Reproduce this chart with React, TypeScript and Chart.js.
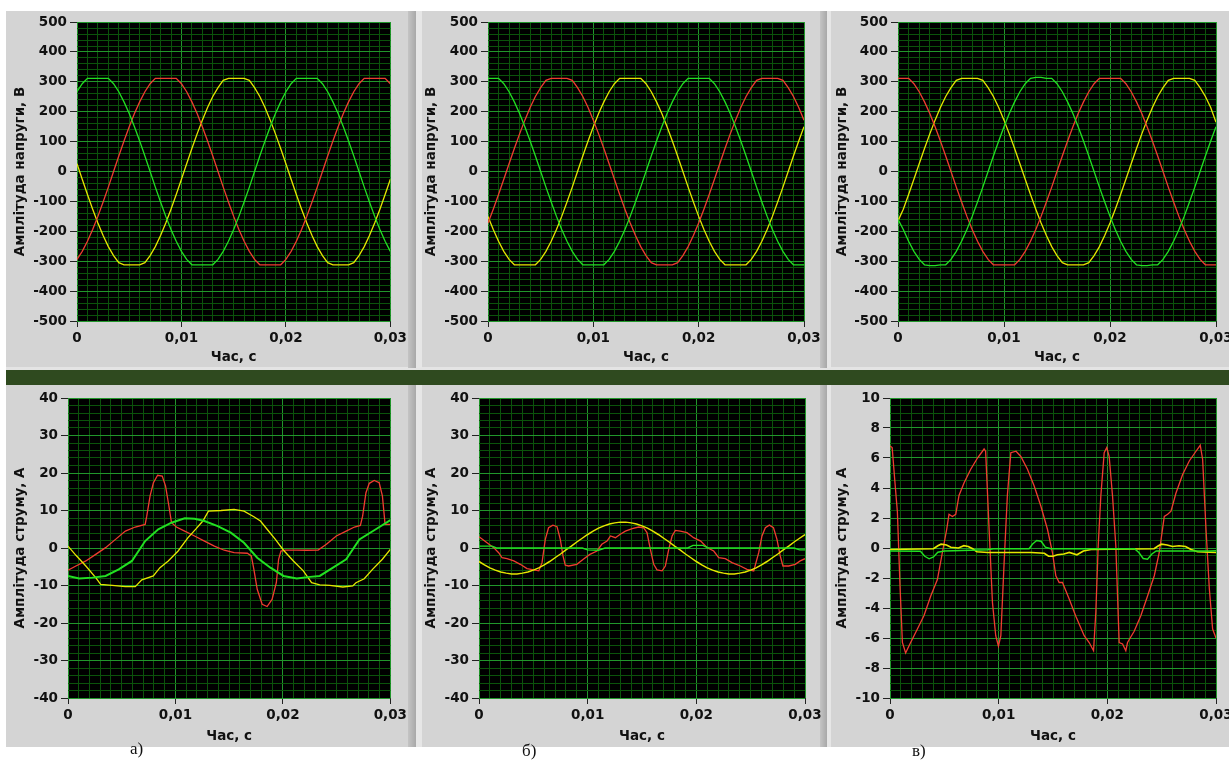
import React, { useEffect, useRef } from 'react';
import { Chart, registerables } from 'chart.js';

Chart.register(...registerables);

// ---------- shared categories / ticks ----------
const TIME_MS = [0,0.5,1,1.5,2,2.5,3,3.5,4,4.5,5,5.5,6,6.5,7,7.5,8,8.5,9,9.5,10,10.5,11,11.5,12,12.5,13,13.5,14,14.5,15,15.5,16,16.5,17,17.5,18,18.5,19,19.5,20,20.5,21,21.5,22,22.5,23,23.5,24,24.5,25,25.5,26,26.5,27,27.5,28,28.5,29,29.5,30];
const X_MAJOR_TICKS = [0, 10, 20, 30];
const X_TICK_TEXT = ['0', '0,01', '0,02', '0,03'];
const V_MAJOR_TICKS = [-500,-400,-300,-200,-100,0,100,200,300,400,500];
const I_MAJOR_TICKS = [-40,-30,-20,-10,0,10,20,30,40];
const I3_MAJOR_TICKS = [-10,-8,-6,-4,-2,0,2,4,6,8,10];
const PANEL_LABELS = ['а)', 'б)', 'в)'];

// ---------- voltages (V), sampled on TIME_MS ----------
const VA_GREEN = [267,294,312,312,312,312,312,294,267,233,194,150,102,52,0,-52,-102,-150,-194,-233,-267,-294,-312,-312,-312,-312,-312,-294,-267,-233,-194,-150,-102,-52,0,52,102,150,194,233,267,294,312,312,312,312,312,294,267,233,194,150,102,52,0,-52,-102,-150,-194,-233,-267];
const VA_RED = [-294,-267,-233,-194,-150,-102,-52,0,52,102,150,194,233,267,294,312,312,312,312,312,294,267,233,194,150,102,52,0,-52,-102,-150,-194,-233,-267,-294,-312,-312,-312,-312,-312,-294,-267,-233,-194,-150,-102,-52,0,52,102,150,194,233,267,294,312,312,312,312,312,294];
const VA_YELLOW = [26,-26,-77,-126,-172,-214,-251,-281,-305,-312,-312,-312,-312,-305,-281,-251,-214,-172,-126,-77,-26,26,77,126,172,214,251,281,305,312,312,312,312,305,281,251,214,172,126,77,26,-26,-77,-126,-172,-214,-251,-281,-305,-312,-312,-312,-312,-305,-281,-251,-214,-172,-126,-77,-26];

const VB_GREEN = [312,312,312,294,267,233,194,150,102,52,0,-52,-102,-150,-194,-233,-267,-294,-312,-312,-312,-312,-312,-294,-267,-233,-194,-150,-102,-52,0,52,102,150,194,233,267,294,312,312,312,312,312,294,267,233,194,150,102,52,0,-52,-102,-150,-194,-233,-267,-294,-312,-312,-312];
const VB_RED = [-172,-126,-77,-26,26,77,126,172,214,251,281,305,312,312,312,312,305,281,251,214,172,126,77,26,-26,-77,-126,-172,-214,-251,-281,-305,-312,-312,-312,-312,-305,-281,-251,-214,-172,-126,-77,-26,26,77,126,172,214,251,281,305,312,312,312,312,305,281,251,214,172];
const VB_YELLOW = [-150,-194,-233,-267,-294,-312,-312,-312,-312,-312,-294,-267,-233,-194,-150,-102,-52,0,52,102,150,194,233,267,294,312,312,312,312,312,294,267,233,194,150,102,52,0,-52,-102,-150,-194,-233,-267,-294,-312,-312,-312,-312,-312,-294,-267,-233,-194,-150,-102,-52,0,52,102,150];

const VC_RED = [312,312,312,294,267,233,194,150,102,52,0,-52,-102,-150,-194,-233,-267,-294,-312,-312,-312,-312,-312,-294,-267,-233,-194,-150,-102,-52,0,52,102,150,194,233,267,294,312,312,312,312,312,294,267,233,194,150,102,52,0,-52,-102,-150,-194,-233,-267,-294,-312,-312,-312];
const VC_YELLOW = [-165,-126,-77,-26,26,77,126,172,214,251,281,305,312,312,312,312,305,281,251,214,172,126,77,26,-26,-77,-126,-172,-214,-251,-281,-305,-312,-312,-312,-312,-305,-281,-251,-214,-172,-126,-77,-26,26,77,126,172,214,251,281,305,312,312,312,312,305,281,251,214,165];
const VC_GREEN = [-160,-194,-233,-267,-294,-312,-315,-315,-312,-312,-294,-267,-233,-194,-150,-102,-52,0,52,102,150,194,233,267,294,312,315,315,312,312,294,267,233,194,150,102,52,0,-52,-102,-150,-194,-233,-267,-294,-312,-315,-315,-312,-312,-294,-267,-233,-194,-150,-102,-52,0,52,102,150];

// ---------- currents (A), polyline vertices ----------
const IA_RED_T = [0,0.74,1.66,2.58,3.5,4.42,5.34,6.26,7.18,7.33,7.64,7.95,8.34,8.77,9.08,9.39,9.63,10.09,10.86,11.78,12.7,13.62,14.54,15.46,16.69,17.06,17.3,17.61,18.07,18.53,18.99,19.39,19.6,19.82,20.22,21.29,22.21,23.28,24.05,24.97,25.89,26.66,27.21,27.42,27.73,28.04,28.5,28.96,29.26,29.51,30];
const IA_RED_V = [-5.9,-4.8,-3.45,-1.7,0.1,2.3,4.5,5.6,6.3,8.5,13.9,17.4,19.4,19.2,16.5,11.2,6.75,5.6,4.5,3.2,1.85,0.5,-0.6,-1.25,-1.4,-2.1,-5.7,-11.0,-15.0,-15.6,-13.7,-9.25,-3.0,-0.8,-0.55,-0.55,-0.6,-0.55,1.0,3.2,4.5,5.6,6.0,8.5,14.75,17.25,18.0,17.4,13.9,6.3,6.3];
const IA_YELLOW_T = [0,0.74,1.66,2.58,3.04,4.11,5.34,6.26,6.87,7.94,8.56,9.33,10.25,11.17,11.93,12.55,13.07,14.24,15.46,16.38,17.3,17.91,18.53,19.3,20.06,20.98,21.9,22.67,23.43,24.36,25.58,26.5,26.8,27.57,28.34,29.26,30];
const IA_YELLOW_V = [0.5,-1.95,-4.8,-7.9,-9.7,-9.95,-10.3,-10.3,-8.5,-7.45,-5.25,-3.45,-0.8,2.75,5.15,7.2,9.85,10.0,10.3,9.85,8.35,7.2,5.0,2.3,-0.6,-3.45,-6.1,-9.25,-9.85,-9.95,-10.4,-10.1,-9.25,-8.2,-5.7,-3.0,-0.35];
const IA_GREEN_T = [0,1.04,2.27,3.5,4.72,5.95,7.18,8.4,9.63,10.86,11.78,12.7,13.93,15.15,16.38,17.61,18.84,20.06,21.29,22.52,23.43,24.66,25.89,27.12,28.65,30];
const IA_GREEN_V = [-7.45,-8.1,-7.9,-7.45,-5.7,-3.45,1.85,5.0,6.75,7.9,7.8,7.2,5.85,4.1,1.4,-2.6,-5.25,-7.45,-8.1,-7.7,-7.45,-5.25,-3.0,2.3,5.0,7.45];

const IB_RED_T = [0,0.74,1.35,1.81,2.12,2.58,3.2,3.8,4.42,5.03,5.5,5.8,6.1,6.4,6.8,7.18,7.48,7.73,7.94,8.25,9.0,9.6,10.2,10.86,11.3,11.78,12.1,12.55,13.0,13.47,14.1,14.7,15.15,15.46,15.77,16.08,16.38,16.85,17.15,17.46,17.77,18.07,18.53,19.14,19.75,20.4,21.0,21.6,22.06,22.67,23.28,24.05,24.66,25.28,25.74,26.04,26.35,26.72,27.1,27.42,27.72,27.97,28.5,29.1,29.56,30];
const IB_RED_V = [3.0,1.4,0.1,-1.25,-2.6,-2.85,-3.45,-4.35,-5.5,-5.85,-6.1,-3.9,2.3,5.4,6.1,5.7,2.3,-2.1,-4.6,-4.8,-4.35,-3.0,-1.7,-0.8,1.0,1.85,3.2,2.75,3.65,4.5,5.15,5.6,5.4,4.1,-0.35,-4.35,-5.85,-6.1,-4.8,-0.35,3.2,4.7,4.5,4.1,2.75,1.85,0.1,-0.8,-2.6,-2.85,-3.9,-4.8,-5.7,-6.1,-1.25,3.2,5.4,6.1,5.4,2.3,-2.1,-4.8,-4.8,-4.35,-3.45,-2.85];
const IB_YELLOW_V = [-3.6,-4.5,-5.3,-5.9,-6.4,-6.7,-6.9,-6.9,-6.7,-6.4,-5.9,-5.3,-4.5,-3.6,-2.6,-1.6,-0.5,0.5,1.6,2.6,3.6,4.5,5.3,5.9,6.4,6.7,6.9,6.9,6.7,6.4,5.9,5.3,4.5,3.6,2.6,1.6,0.5,-0.5,-1.6,-2.6,-3.6,-4.5,-5.3,-5.9,-6.4,-6.7,-6.9,-6.9,-6.7,-6.4,-5.9,-5.3,-4.5,-3.6,-2.6,-1.6,-0.5,0.5,1.6,2.6,3.6];
const IB_GREEN_T = [0,1.2,1.6,9.5,10,11,11.6,19.2,19.7,20.6,21.1,29,29.5,30];
const IB_GREEN_V = [0.5,0.5,0,0,-0.5,-0.6,0,0,0.7,0.7,0,0,-0.5,-0.5];

const IC_RED_T = [0,0.2,0.43,0.68,0.92,1.14,1.44,1.6,1.9,2.52,3.13,3.75,4.36,4.82,5.22,5.43,5.74,6.05,6.35,6.82,7.43,8.05,8.66,8.8,9.12,9.43,9.73,9.98,10.2,10.5,10.8,11.12,11.6,12.04,12.65,13.26,13.88,14.49,14.95,15.26,15.57,15.87,16.49,17.1,17.87,18.33,18.73,18.94,19.16,19.4,19.71,19.95,20.17,20.48,20.78,21.09,21.4,21.7,21.86,22.47,23.09,23.7,24.32,24.78,25.24,25.55,25.86,26.31,26.93,27.54,28.16,28.55,28.77,29.08,29.39,29.69,30];
const IC_RED_V = [6.8,6.7,4.6,2.4,-2.5,-6.3,-7.0,-6.75,-6.3,-5.4,-4.5,-3.2,-2.1,-0.3,1.25,2.25,2.1,2.25,3.5,4.35,5.25,6.0,6.6,6.45,1.25,-3.65,-5.85,-6.55,-5.85,-1.0,3.5,6.35,6.45,6.1,5.25,4.15,2.8,1.25,-0.3,-1.85,-2.3,-2.3,-3.4,-4.55,-5.85,-6.3,-6.85,-4.3,0.15,3.45,6.35,6.7,6.1,3.45,0.15,-6.3,-6.4,-6.85,-6.3,-5.55,-4.5,-3.2,-1.85,-0.3,2.1,2.25,2.45,3.65,4.9,5.8,6.45,6.85,5.9,1.25,-2.75,-5.4,-6.0];
const IC_GREEN_T = [0,2.8,3.2,3.6,4.0,4.4,5,9,9.5,12.8,13.1,13.5,13.9,14.3,14.8,22.5,22.9,23.3,23.7,24.1,24.5,29.5,30];
const IC_GREEN_V = [-0.2,-0.22,-0.55,-0.72,-0.6,-0.28,-0.2,-0.12,-0.05,-0.05,0.25,0.5,0.45,0.05,-0.05,-0.05,-0.3,-0.7,-0.75,-0.4,-0.2,-0.2,-0.18];
const IC_YELLOW_T = [0,4.0,4.4,4.7,5.2,5.6,6.3,6.8,7.2,7.6,8.0,9,13,14.2,14.6,15.0,15.4,16,16.5,17.2,17.8,18.5,24.3,24.7,25,25.5,26,26.6,27.2,27.7,28.3,30];
const IC_YELLOW_V = [-0.1,-0.05,0.15,0.25,0.2,0.05,0.0,0.15,0.1,-0.05,-0.25,-0.3,-0.3,-0.35,-0.55,-0.55,-0.45,-0.4,-0.3,-0.45,-0.2,-0.1,-0.05,0.15,0.25,0.2,0.1,0.15,0.1,-0.1,-0.25,-0.3];

// ---------- styles ----------
const RED = '#f03c30';
const YELLOW = '#e6e600';
const GREEN = '#22e022';
const GRID_MAJOR = '#21962b';
const GRID_MINOR = '#0b530b';
const PANEL_GRAY = '#d4d4d4';
const FONT_FAMILY = "'DejaVu Sans', 'Noto Sans', sans-serif";

interface Series { t: number[]; v: number[]; color: string; width: number; }
interface PanelSpec {
  left: number; top: number; width: number; height: number;
  padTop: number; padRight: number; yWidth: number; xHeight: number;
  yMin: number; yMax: number; yStep: number; yMajor: number[]; yTitle: string;
  series: Series[];
}

const V_TITLE = 'Амплітуда напруги, В';
const I_TITLE = 'Амплітуда струму, А';

const PANELS: PanelSpec[] = [
  { left: 6, top: 11, width: 404, height: 357, padTop: 9, padRight: 16, yWidth: 71, xHeight: 47,
    yMin: -500, yMax: 500, yStep: 20, yMajor: V_MAJOR_TICKS, yTitle: V_TITLE,
    series: [
      { t: TIME_MS, v: VA_GREEN, color: GREEN, width: 1.3 },
      { t: TIME_MS, v: VA_RED, color: RED, width: 1.3 },
      { t: TIME_MS, v: VA_YELLOW, color: YELLOW, width: 1.3 },
    ] },
  { left: 417, top: 11, width: 409, height: 357, padTop: 9, padRight: 22, yWidth: 71, xHeight: 47,
    yMin: -500, yMax: 500, yStep: 20, yMajor: V_MAJOR_TICKS, yTitle: V_TITLE,
    series: [
      { t: TIME_MS, v: VB_GREEN, color: GREEN, width: 1.3 },
      { t: TIME_MS, v: VB_RED, color: RED, width: 1.3 },
      { t: TIME_MS, v: VB_YELLOW, color: YELLOW, width: 1.3 },
    ] },
  { left: 828, top: 11, width: 412, height: 357, padTop: 9, padRight: 24, yWidth: 70, xHeight: 47,
    yMin: -500, yMax: 500, yStep: 20, yMajor: V_MAJOR_TICKS, yTitle: V_TITLE,
    series: [
      { t: TIME_MS, v: VC_GREEN, color: GREEN, width: 1.3 },
      { t: TIME_MS, v: VC_RED, color: RED, width: 1.3 },
      { t: TIME_MS, v: VC_YELLOW, color: YELLOW, width: 1.3 },
    ] },
  { left: 6, top: 385, width: 404, height: 362, padTop: 13, padRight: 16, yWidth: 62, xHeight: 49,
    yMin: -40, yMax: 40, yStep: 2, yMajor: I_MAJOR_TICKS, yTitle: I_TITLE,
    series: [
      { t: IA_GREEN_T, v: IA_GREEN_V, color: GREEN, width: 2 },
      { t: IA_YELLOW_T, v: IA_YELLOW_V, color: YELLOW, width: 1.3 },
      { t: IA_RED_T, v: IA_RED_V, color: RED, width: 1.3 },
    ] },
  { left: 417, top: 385, width: 409, height: 362, padTop: 13, padRight: 21, yWidth: 62, xHeight: 49,
    yMin: -40, yMax: 40, yStep: 2, yMajor: I_MAJOR_TICKS, yTitle: I_TITLE,
    series: [
      { t: IB_GREEN_T, v: IB_GREEN_V, color: GREEN, width: 1.4 },
      { t: TIME_MS, v: IB_YELLOW_V, color: YELLOW, width: 1.5 },
      { t: IB_RED_T, v: IB_RED_V, color: RED, width: 1.3 },
    ] },
  { left: 828, top: 385, width: 412, height: 362, padTop: 13, padRight: 24, yWidth: 62, xHeight: 49,
    yMin: -10, yMax: 10, yStep: 0.5, yMajor: I3_MAJOR_TICKS, yTitle: I_TITLE,
    series: [
      { t: IC_GREEN_T, v: IC_GREEN_V, color: GREEN, width: 1.4 },
      { t: IC_YELLOW_T, v: IC_YELLOW_V, color: YELLOW, width: 1.7 },
      { t: IC_RED_T, v: IC_RED_V, color: RED, width: 1.3 },
    ] },
];

const LABEL_POS = [ { left: 130, top: 740 }, { left: 522, top: 742 }, { left: 912, top: 742 } ];

const plotBg = {
  id: 'plotBg',
  beforeDraw(chart: any) {
    const { ctx, chartArea: a } = chart;
    ctx.save();
    ctx.fillStyle = '#000';
    ctx.fillRect(a.left, a.top, a.right - a.left, a.bottom - a.top);
    ctx.restore();
  },
};

const near = (list: number[], v: number) => list.some((m) => Math.abs(m - v) < 1e-6);
const tickVal = (c: any) => (c && c.tick ? c.tick.value : NaN);

function ChartPanel({ spec }: { spec: PanelSpec }) {
  const ref = useRef<HTMLCanvasElement>(null);
  useEffect(() => {
    const canvas = ref.current;
    if (!canvas) return;
    const tickFont = { family: FONT_FAMILY, size: 13.5, weight: 'bold' };
    const titleFont = { family: FONT_FAMILY, size: 13.5, weight: 'bold' };
    const chart = new Chart(canvas, {
      type: 'line',
      data: {
        datasets: spec.series.map((s) => ({
          data: s.t.map((t, i) => ({ x: t, y: s.v[i] })),
          borderColor: s.color,
          borderWidth: s.width,
          pointRadius: 0,
          tension: 0,
          fill: false,
        })),
      },
      options: {
        animation: false,
        responsive: false,
        events: [],
        layout: { padding: { left: 0, top: spec.padTop, right: spec.padRight, bottom: 0 } },
        plugins: { legend: { display: false }, tooltip: { enabled: false } },
        scales: {
          x: {
            type: 'linear', min: 0, max: 30,
            afterFit: (s: any) => { s.height = spec.xHeight; },
            ticks: {
              stepSize: 1, autoSkip: false, maxRotation: 0, minRotation: 0, padding: 3,
              maxTicksLimit: 1000, color: '#111', font: tickFont,
              callback: (v: any) => { const i = X_MAJOR_TICKS.findIndex((m) => Math.abs(m - v) < 1e-6); return i >= 0 ? X_TICK_TEXT[i] : ''; },
            },
            grid: {
              color: (c: any) => (near(X_MAJOR_TICKS, tickVal(c)) ? GRID_MAJOR : GRID_MINOR),
              tickColor: (c: any) => (near(X_MAJOR_TICKS, tickVal(c)) ? '#222' : 'rgba(0,0,0,0)'),
              tickLength: 6, lineWidth: 1,
            },
            border: { display: false },
            title: { display: true, text: 'Час, с', color: '#111', font: titleFont, padding: { top: 0, bottom: 2 } },
          },
          y: {
            type: 'linear', min: spec.yMin, max: spec.yMax,
            afterFit: (s: any) => { s.width = spec.yWidth; },
            ticks: {
              stepSize: spec.yStep, autoSkip: false, padding: 3, maxTicksLimit: 1000,
              color: '#111', font: tickFont,
              callback: (v: any) => (near(spec.yMajor, v) ? String(Math.round(v)) : ''),
            },
            grid: {
              color: (c: any) => (near(spec.yMajor, tickVal(c)) ? GRID_MAJOR : GRID_MINOR),
              tickColor: (c: any) => (near(spec.yMajor, tickVal(c)) ? '#222' : 'rgba(0,0,0,0)'),
              tickLength: 7, lineWidth: 1,
            },
            border: { display: false },
            title: { display: true, text: spec.yTitle, color: '#111', font: titleFont, padding: { top: 6, bottom: 0 } },
          },
        },
      } as any,
      plugins: [plotBg],
    });
    return () => chart.destroy();
  }, [spec]);
  return (
    <canvas
      ref={ref}
      width={spec.width}
      height={spec.height}
      style={{ position: 'absolute', left: spec.left, top: spec.top, width: spec.width, height: spec.height }}
    />
  );
}

export default function App() {
  const box = (left: number, top: number, width: number, height: number, background: string) => (
    <div style={{ position: 'absolute', left, top, width, height, background }} />
  );
  return (
    <div style={{ position: 'fixed', left: 0, top: 0, width: 1229, height: 760, overflow: 'hidden', background: '#fff' }}>
      {box(6, 11, 1223, 357, PANEL_GRAY)}
      {box(6, 385, 1223, 362, PANEL_GRAY)}
      {box(6, 367, 1223, 3, '#e4e4e4')}
      {box(6, 370, 1223, 15, '#2f4a1f')}
      {box(408, 11, 8, 357, 'linear-gradient(to right, #c4c4c4, #a8a8a8)')}
      {box(416, 11, 6, 357, '#e6e6e6')}
      {box(408, 385, 8, 362, 'linear-gradient(to right, #c4c4c4, #a8a8a8)')}
      {box(416, 385, 6, 362, '#e6e6e6')}
      {box(820, 11, 7, 357, 'linear-gradient(to right, #c4c4c4, #a8a8a8)')}
      {box(827, 11, 4, 357, '#e6e6e6')}
      {box(820, 385, 7, 362, 'linear-gradient(to right, #c4c4c4, #a8a8a8)')}
      {box(827, 385, 4, 362, '#e6e6e6')}
      {PANELS.map((p, i) => <ChartPanel key={i} spec={p} />)}
      {PANEL_LABELS.map((t, i) => (
        <div key={t} style={{ position: 'absolute', left: LABEL_POS[i].left, top: LABEL_POS[i].top, fontFamily: "'Liberation Serif', serif", fontSize: 17, lineHeight: '18px', color: '#111' }}>{t}</div>
      ))}
    </div>
  );
}
